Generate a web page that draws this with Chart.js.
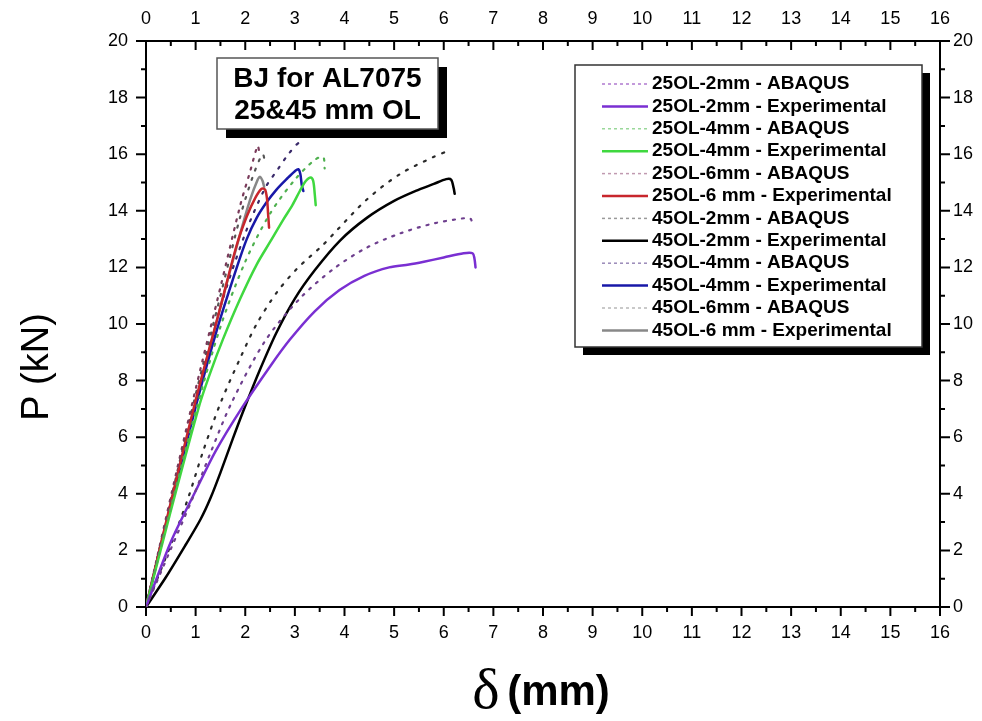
<!DOCTYPE html>
<html>
<head>
<meta charset="utf-8">
<title>BJ for AL7075 – load vs displacement</title>
<script src="https://cdn.jsdelivr.net/npm/chart.js@4.4.1/dist/chart.umd.min.js"></script>
<style>
  html, body { margin: 0; padding: 0; background: #fff; }
  #wrap { width: 982px; height: 721px; }
</style>
</head>
<body>
<div id="wrap"><canvas id="c" width="982" height="721"></canvas></div>
<script>
// Load P (kN) against displacement δ (mm), points as [δ, P]
const abq25_2mm = [[0,0],[0.5,2.05],[0.94,3.85],[1.3,5.45],[1.72,7.2],[2.4,9.4],[3.1,10.9],[3.78,11.95],[4.45,12.7],[5.12,13.2],[5.79,13.55],[6.47,13.75],[6.55,13.7],[6.57,13.5]];
const exp25_2mm = [[0,0],[0.5,2.3],[1.0,4.1],[1.4,5.5],[1.9,6.95],[2.5,8.5],[2.9,9.45],[3.4,10.45],[3.9,11.2],[4.4,11.7],[4.9,12.0],[5.3,12.1],[5.6,12.2],[6.0,12.35],[6.4,12.5],[6.58,12.5],[6.62,12.3],[6.64,12.0]];
const abq25_4mm = [[0,0],[0.5,3.5],[1.0,6.9],[1.5,9.9],[2.0,12.2],[2.5,13.9],[3.0,15.1],[3.4,15.8],[3.57,15.9],[3.6,15.5]];
const exp25_4mm = [[0,0],[0.5,3.4],[1.07,7.1],[1.3,8.3],[1.56,9.5],[1.9,10.9],[2.23,12.1],[2.5,12.9],[2.77,13.7],[2.95,14.2],[3.1,14.7],[3.22,15.05],[3.32,15.18],[3.37,15.05],[3.4,14.6],[3.42,14.2]];
const abq25_6mm = [[0,0],[0.5,3.9],[1.0,7.7],[1.5,11.3],[1.9,14.2],[2.1,15.4],[2.25,16.3],[2.28,16.1]];
const exp25_6mm = [[0,0],[0.5,3.7],[1.0,7.3],[1.5,10.6],[1.83,12.8],[2.03,13.8],[2.2,14.45],[2.33,14.78],[2.4,14.75],[2.44,14.4],[2.46,13.9],[2.48,13.4]];
const abq45_2mm = [[0,0],[0.5,2.2],[0.84,3.8],[1.15,5.5],[1.5,7.2],[1.9,8.8],[2.23,10.0],[2.63,11.1],[3.04,11.95],[3.57,12.8],[3.84,13.3],[4.45,14.4],[5.12,15.3],[5.79,15.9],[6.06,16.1],[6.1,16.15]];
const exp45_2mm = [[0,0],[0.4,1.05],[0.8,2.2],[1.1,3.1],[1.3,3.85],[1.5,4.75],[1.75,5.95],[2.0,7.1],[2.3,8.4],[2.63,9.7],[3.0,10.9],[3.4,11.9],[3.91,12.95],[4.45,13.75],[5.0,14.35],[5.5,14.75],[5.8,14.95],[6.05,15.12],[6.15,15.1],[6.2,14.8],[6.22,14.6]];
const abq45_4mm = [[0,0],[0.5,3.7],[1.0,7.3],[1.5,10.6],[2.0,13.2],[2.4,14.8],[2.67,15.5],[2.87,16.0],[3.08,16.4],[3.12,16.2]];
const exp45_4mm = [[0,0],[0.5,3.6],[1.02,7.2],[1.43,9.8],[1.83,12.0],[2.03,13.0],[2.23,13.75],[2.43,14.3],[2.63,14.75],[2.85,15.15],[3.0,15.4],[3.07,15.47],[3.11,15.3],[3.14,14.9],[3.17,14.7]];
const abq45_6mm = [[0,0],[0.5,3.8],[1.0,7.5],[1.5,11.0],[1.9,13.8],[2.15,15.2],[2.35,16.0],[2.4,15.7]];
const exp45_6mm = [[0,0],[0.5,3.65],[1.0,7.2],[1.5,10.6],[1.9,13.2],[2.1,14.4],[2.25,15.1],[2.3,15.2],[2.35,15.05],[2.38,14.85]];

const seriesLabels = [
  '25OL-2mm - ABAQUS', '25OL-2mm - Experimental',
  '25OL-4mm - ABAQUS', '25OL-4mm - Experimental',
  '25OL-6mm - ABAQUS', '25OL-6 mm - Experimental',
  '45OL-2mm - ABAQUS', '45OL-2mm - Experimental',
  '45OL-4mm - ABAQUS', '45OL-4mm - Experimental',
  '45OL-6mm - ABAQUS', '45OL-6 mm - Experimental'
];
const seriesData = [abq25_2mm, exp25_2mm, abq25_4mm, exp25_4mm, abq25_6mm, exp25_6mm,
                    abq45_2mm, exp45_2mm, abq45_4mm, exp45_4mm, abq45_6mm, exp45_6mm];

const xTicks = { min: 0, max: 16, step: 1 };
const yTicks = { min: 0, max: 20, step: 2 };
const boxTitle = ['BJ for AL7075', '25&45 mm OL'];

// line styles: ABAQUS curves dotted, experimental curves solid
const styles = [
  { color: '#6e3f8e', dash: [2, 7], width: 2.2 },
  { color: '#7a2fd2', dash: [], width: 2.5 },
  { color: '#4fb04f', dash: [2, 7], width: 2.2 },
  { color: '#3fd83f', dash: [], width: 2.5 },
  { color: '#7a3a5a', dash: [2, 7], width: 2.2 },
  { color: '#c8262c', dash: [], width: 2.5 },
  { color: '#2a2a2a', dash: [2, 8], width: 2.2 },
  { color: '#000000', dash: [], width: 2.5 },
  { color: '#3a2a6a', dash: [2, 8], width: 2.2 },
  { color: '#1818a8', dash: [], width: 2.5 },
  { color: '#555555', dash: [2, 8], width: 2.2 },
  { color: '#888888', dash: [], width: 2.5 }
];
const legendSample = ['#b07ad0', null, '#9ad89a', null, '#c09ab0', null, '#9a9a9a', null, '#9a8ab8', null, '#b8b8b8', null];

const sansFont = "'Liberation Sans', Arial, sans-serif";
const tickFont = { family: sansFont, size: 18 };

const datasets = seriesData.map((pts, i) => ({
  label: seriesLabels[i],
  data: pts.map(([x, y]) => ({ x, y })),
  borderColor: styles[i].color,
  borderDash: styles[i].dash,
  borderWidth: styles[i].width,
  borderCapStyle: 'round',
  pointRadius: 0,
  fill: false,
  tension: 0.3,
  xAxisID: 'x',
  yAxisID: 'y'
}));

function axisOpts(position, range, padding, fitSize) {
  return {
    type: 'linear',
    position,
    min: range.min,
    max: range.max,
    ticks: {
      stepSize: range.step,
      padding,
      color: '#000',
      font: tickFont,
      maxRotation: 0,
      autoSkip: false
    },
    grid: { display: true, drawOnChartArea: false, drawTicks: false, color: 'rgba(0,0,0,0)' },
    border: { display: true, color: '#000', width: 2 },
    afterFit(scale) {
      if (scale.isHorizontal()) scale.height = fitSize; else scale.width = fitSize;
    }
  };
}

// tick marks: major and minor, outward on bottom/left/right, inward on top
const tickMarks = {
  id: 'tickMarks',
  afterDraw(chart) {
    const { ctx, chartArea: a, scales } = chart;
    const sx = scales.x, sy = scales.y;
    ctx.save();
    ctx.strokeStyle = '#000';
    ctx.lineWidth = 2;
    ctx.beginPath();
    for (let v = xTicks.min; v <= xTicks.max + 1e-9; v += 0.5) {
      const px = sx.getPixelForValue(v);
      const major = Math.abs(v - Math.round(v)) < 1e-9;
      const len = major ? 9 : 5;
      ctx.moveTo(px, a.bottom); ctx.lineTo(px, a.bottom + len);
      ctx.moveTo(px, a.top); ctx.lineTo(px, a.top + len);
    }
    for (let v = yTicks.min; v <= yTicks.max + 1e-9; v += 1) {
      const py = sy.getPixelForValue(v);
      const len = v % 2 === 0 ? 10 : 5;
      ctx.moveTo(a.left, py); ctx.lineTo(a.left - len, py);
      ctx.moveTo(a.right, py); ctx.lineTo(a.right + len, py);
    }
    ctx.stroke();
    ctx.restore();
  }
};

// axis titles, title box and legend box
const annotations = {
  id: 'annotations',
  afterDraw(chart) {
    const { ctx, chartArea: a } = chart;
    ctx.save();

    // y axis title
    ctx.fillStyle = '#000';
    ctx.translate(38, 367);
    ctx.rotate(-Math.PI / 2);
    ctx.font = '38px ' + sansFont;
    ctx.textAlign = 'center';
    ctx.textBaseline = 'middle';
    ctx.fillText('P (kN)', 0, 0);
    ctx.setTransform(1, 0, 0, 1, 0, 0);

    // x axis title: serif delta followed by bold unit
    const cx = (a.left + a.right) / 2;
    const deltaFont = '58px "Liberation Serif", "Times New Roman", serif';
    const unitFont = 'bold 42px ' + sansFont;
    ctx.textBaseline = 'alphabetic';
    ctx.textAlign = 'left';
    ctx.font = deltaFont;
    const dW = ctx.measureText('δ').width;
    ctx.font = unitFont;
    const uW = ctx.measureText(' (mm)').width;
    const startX = cx - (dW + uW) / 2;
    ctx.font = deltaFont;
    ctx.fillText('δ', startX, 708);
    ctx.font = unitFont;
    ctx.fillText(' (mm)', startX + dW - 4, 705);

    // title box with drop shadow
    const tb = { x: 217, y: 58, w: 221, h: 71 };
    ctx.fillStyle = '#000';
    ctx.fillRect(tb.x + 9, tb.y + 9, tb.w, tb.h);
    ctx.fillStyle = '#fff';
    ctx.fillRect(tb.x, tb.y, tb.w, tb.h);
    ctx.strokeStyle = '#555';
    ctx.lineWidth = 1.5;
    ctx.strokeRect(tb.x, tb.y, tb.w, tb.h);
    ctx.fillStyle = '#000';
    ctx.font = 'bold 28px ' + sansFont;
    ctx.textAlign = 'center';
    ctx.textBaseline = 'middle';
    ctx.fillText(boxTitle[0], tb.x + tb.w / 2, tb.y + 21);
    ctx.fillText(boxTitle[1], tb.x + tb.w / 2, tb.y + 53);

    // legend box with drop shadow
    const lb = { x: 575, y: 65, w: 347, h: 282 };
    ctx.fillStyle = '#000';
    ctx.fillRect(lb.x + 8, lb.y + 8, lb.w, lb.h);
    ctx.fillStyle = '#fff';
    ctx.fillRect(lb.x, lb.y, lb.w, lb.h);
    ctx.strokeStyle = '#333';
    ctx.lineWidth = 1.5;
    ctx.strokeRect(lb.x, lb.y, lb.w, lb.h);
    ctx.font = 'bold 19px ' + sansFont;
    ctx.textAlign = 'left';
    ctx.textBaseline = 'middle';
    chart.data.datasets.forEach((ds, i) => {
      const yy = lb.y + 19 + i * 22.4;
      const dotted = ds.borderDash.length > 0;
      ctx.save();
      ctx.strokeStyle = dotted ? legendSample[i] : ds.borderColor;
      ctx.lineWidth = dotted ? 1.5 : 2.5;
      ctx.setLineDash(dotted ? [3, 3] : []);
      ctx.beginPath();
      ctx.moveTo(lb.x + 27, yy);
      ctx.lineTo(lb.x + 73, yy);
      ctx.stroke();
      ctx.restore();
      ctx.fillStyle = '#000';
      ctx.fillText(ds.label, lb.x + 77, yy);
    });
    ctx.restore();
  }
};

new Chart(document.getElementById('c'), {
  type: 'line',
  data: { datasets },
  options: {
    responsive: false,
    animation: false,
    devicePixelRatio: 1,
    layout: { padding: 0 },
    plugins: { legend: { display: false }, tooltip: { enabled: false } },
    scales: {
      x: axisOpts('bottom', xTicks, 15, 114),
      x2: axisOpts('top', xTicks, 11, 41),
      y: axisOpts('left', yTicks, 18, 146),
      y2: axisOpts('right', yTicks, 13, 42)
    }
  },
  plugins: [tickMarks, annotations]
});
</script>
</body>
</html>
